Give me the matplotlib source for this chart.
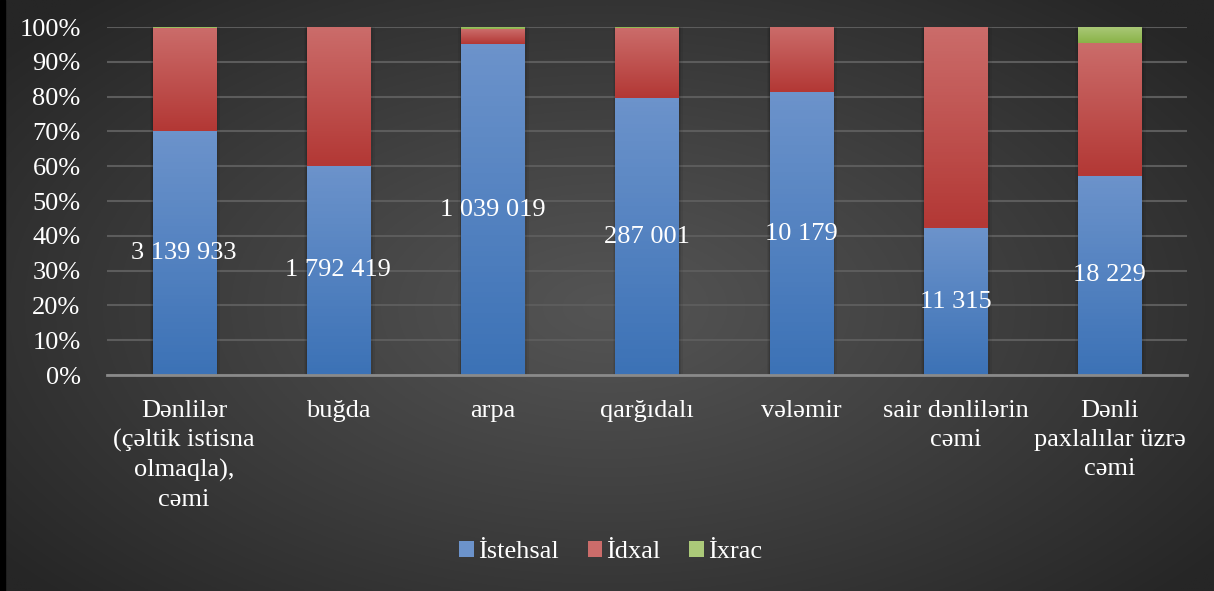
import numpy as np
import matplotlib.pyplot as plt
from matplotlib.colors import to_rgb
from matplotlib.patches import Rectangle

plt.rcParams['font.family'] = ['Liberation Serif', 'DejaVu Serif']

# grain balance: production, imports, exports (tonnes)
categories = ["Dənlilər\n(çəltik istisna\nolmaqla),\ncəmi", "buğda", "arpa",
              "qarğıdalı", "vələmir", "sair dənlilərin\ncəmi",
              "Dənli\npaxlalılar üzrə\ncəmi"]
istehsal = [3139933, 1792419, 1039019, 287001, 10179, 11315, 18229]
idxal = [1330000, 1184000, 47000, 72500, 2340, 15500, 12170]
ixrac = [9000, 3000, 6500, 1100, 0, 0, 1470]
series_names = ["İstehsal", "İdxal", "İxrac"]

# gradient colours (top, bottom) per series
grad = [("#6c93cb", "#3c72b6"), ("#cb6c6a", "#b33835"), ("#abc979", "#8ab348")]

data = np.array([istehsal, idxal, ixrac], dtype=float)
pct = data / data.sum(axis=0) * 100

fig = plt.figure(figsize=(12.14, 5.91), dpi=100)

# radial dark background
bg = fig.add_axes([0, 0, 1, 1])
yy, xx = np.mgrid[0:1:300j, 0:1:600j]
r = np.sqrt(((xx - 0.5) / 0.55) ** 2 + ((yy - 0.52) / 0.62) ** 2)
v = 84 - 46 * np.clip(r / 1.15, 0, 1) ** 1.1
bg.imshow(np.dstack([v, v, v]) / 255, extent=[0, 1, 0, 1], aspect='auto')
bg.axis('off')
bg.add_patch(Rectangle((0, 0), 5 / 1214, 1, color='black', transform=bg.transAxes))

ax = fig.add_axes([107 / 1214, 1 - 375 / 591, 1080 / 1214, 348 / 591])
ax.set_facecolor('none')

x = np.arange(len(categories))
width = 0.41

# soft shadow behind each bar
for xi in x:
    for k, a in [(0.018, 0.06), (0.010, 0.08), (0.004, 0.10)]:
        ax.add_patch(Rectangle((xi - width / 2 - k, -0.3), width + 2.6 * k, 100.9,
                               color='black', alpha=a, lw=0, zorder=1))

bottom = np.zeros(len(categories))
g = np.linspace(0, 1, 64)[:, None]
for s in range(3):
    bars = ax.bar(x, pct[s], width, bottom=bottom, color=grad[s][1], lw=0,
                  zorder=2, label=series_names[s])
    top_c, bot_c = np.array(to_rgb(grad[s][0])), np.array(to_rgb(grad[s][1]))
    img = (bot_c * (1 - g) + top_c * g)[:, None, :]
    for b in bars:
        if b.get_height() <= 0:
            continue
        im = ax.imshow(img, extent=[b.get_x(), b.get_x() + b.get_width(),
                                    b.get_y(), b.get_y() + b.get_height()],
                       origin='lower', aspect='auto', zorder=2.5)
        im.set_clip_path(b)
    bottom += pct[s]

# value labels for production
for xi, p, val in zip(x, pct[0], istehsal):
    ax.text(xi, p / 2, f"{val:,}".replace(",", " "), ha='center', va='center',
            color='white', fontsize=19, zorder=4)

ax.set_xlim(-0.5, len(categories) - 0.5)
ax.set_ylim(0, 100)
ax.set_yticks(np.arange(0, 101, 10))
ax.set_yticklabels([f"{t}%" for t in range(0, 101, 10)])
ax.set_xticks(x)
ax.set_xticklabels(categories, linespacing=1.4)
ax.tick_params(axis='both', length=0, colors='white', labelsize=19)
ax.tick_params(axis='y', pad=19)
ax.tick_params(axis='x', pad=18)
ax.yaxis.grid(True, color='#5c5c5c', lw=1.5, zorder=0)
ax.set_axisbelow(True)
for sp in ['top', 'right', 'left']:
    ax.spines[sp].set_visible(False)
ax.spines['bottom'].set_color('#8a8a8a')
ax.spines['bottom'].set_linewidth(2)
ax.spines['bottom'].set_zorder(3)

leg = fig.legend(loc='center', bbox_to_anchor=(0.503, 0.066), ncol=3, frameon=False,
                 fontsize=19, labelcolor='white', handlelength=0.55, handleheight=0.55,
                 handletextpad=0.15, columnspacing=1.1)
for h, c in zip(leg.legend_handles, grad):
    h.set_color(c[0])

fig.savefig("out.png", dpi=100)
